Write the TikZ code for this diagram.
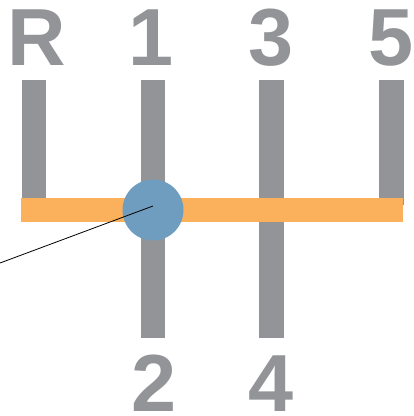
\documentclass[tikz,border=0pt]{standalone}
\usepackage{fontspec}
\setmainfont{Liberation Sans}
\definecolor{bargrey}{HTML}{939498}
\definecolor{railorange}{HTML}{FBB05C}
\definecolor{knobblue}{HTML}{6F9DBF}
\begin{document}
\begin{tikzpicture}[x=1pt,y=-1pt,
  bar/.style={fill=bargrey,draw=none},
  rail/.style={fill=railorange,draw=none},
  gearlabel/.style={text=bargrey,font=\fontsize{81}{81}\selectfont\bfseries,inner sep=0pt,text depth=0pt,anchor=base},
  knob/.style={circle,fill=knobblue,draw=none,minimum size=61pt,inner sep=0pt},
  pointer/.style={draw=black,line width=0.8pt}]
\useasboundingbox (0,0) rectangle (414,416);
% gear labels
\node[gearlabel] (lR) at (36.5,65) {R};
\node[gearlabel] (l1) at (151,65) {1};
\node[gearlabel] (l3) at (271.5,65) {3};
\node[gearlabel] (l5) at (391.5,65) {5};
\node[gearlabel] (l2) at (154,411) {2};
\node[gearlabel] (l4) at (271.5,411) {4};
% gate bars
\fill[bar] (22,80) rectangle (46,205);
\fill[bar] (141,80) rectangle (165,338);
\fill[bar] (259,80) rectangle (284,338);
\fill[bar] (379,80) rectangle (404,205);
% neutral rail
\fill[rail] (21,198) rectangle (403,222);
% knob
\node[knob] (knob) at (153,210) {};
\coordinate (pivot) at (153,206);
\coordinate (tail) at (0,263);
\draw[pointer] (pivot) -- (tail);
\end{tikzpicture}
\end{document}
